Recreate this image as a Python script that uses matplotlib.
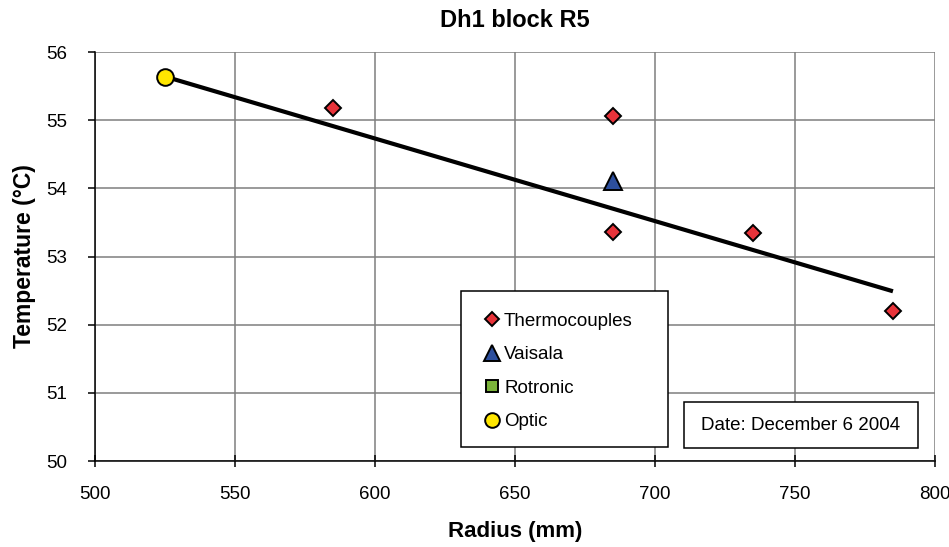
import matplotlib as mpl
import matplotlib.pyplot as plt
from matplotlib.patches import Rectangle

mpl.rcParams.update({'font.family': 'Liberation Sans', 'font.size': 13.5})

# measurements
thermo_r = [585, 685, 685, 735, 785]
thermo_t = [55.18, 55.06, 53.36, 53.35, 52.20]
vaisala_r = [685]
vaisala_t = [54.11]
rotronic_r = []
rotronic_t = []
optic_r = [525]
optic_t = [55.64]

# trend line end points
trend_r = [525, 785]
trend_t = [55.64, 52.49]

xticks = [500, 550, 600, 650, 700, 750, 800]
yticks = [50, 51, 52, 53, 54, 55, 56]

fig = plt.figure(figsize=(9.49, 5.47), dpi=100)
ax = fig.add_axes([0.1001, 0.1572, 0.8851, 0.7477])

ax.set_xlim(500, 800)
ax.set_ylim(50, 56)
ax.set_xticks(xticks)
ax.set_yticks(yticks)
ax.grid(True, color='#7f7f7f', lw=1.1)
ax.set_axisbelow(True)
for s in ('top', 'right'):
    ax.spines[s].set_visible(False)
for s in ('left', 'bottom'):
    ax.spines[s].set_linewidth(1.1)
ax.tick_params(axis='x', direction='inout', length=8, width=1.1, labelsize=13.5, pad=14)
ax.tick_params(axis='y', direction='out', length=5, width=1.1, labelsize=13.5, pad=15)

ax.plot(trend_r, trend_t, color='black', lw=3, solid_capstyle='butt', zorder=3)

mk = dict(ls='none', markeredgecolor='black', markeredgewidth=1.4, zorder=4)
ax.plot(thermo_r, thermo_t, marker='D', ms=8.3, color='#e8333a', label='Thermocouples', **mk)
ax.plot(vaisala_r, vaisala_t, marker='^', ms=13, color='#2d4f9e', label='Vaisala', **mk)
ax.plot(rotronic_r, rotronic_t, marker='s', ms=10, color='#7bb33a', label='Rotronic', **mk)
ax.plot(optic_r, optic_t, marker='o', ms=12, color='#ffe600', label='Optic', **mk)

# legend frame and entries
ax.add_patch(Rectangle((0.4357, 0.0342), 0.2464, 0.3814, transform=ax.transAxes,
                       facecolor='white', edgecolor='black', lw=1.1, zorder=5))
leg = ax.legend(loc='center left', bbox_to_anchor=(0.4357, 0.219), frameon=False,
                fontsize=13.5, handlelength=0.9, handletextpad=0.2, labelspacing=0.87,
                borderaxespad=0.8, markerscale=0.88)
leg.set_zorder(6)

# date box
ax.add_patch(Rectangle((0.701, 0.0318), 0.279, 0.1125, transform=ax.transAxes,
                       facecolor='white', edgecolor='black', lw=1.1, zorder=5))
ax.text(0.8405, 0.088, 'Date: December 6 2004', transform=ax.transAxes,
        ha='center', va='center', fontsize=13.5, zorder=6)

ax.set_title('Dh1 block R5', fontsize=17, fontweight='bold', pad=18)
ax.set_xlabel('Radius (mm)', fontsize=16, fontweight='bold', labelpad=13)
ax.set_ylabel('Temperature (°C)', fontsize=16.5, fontweight='bold', labelpad=7)

fig.savefig('out.png', dpi=100)
